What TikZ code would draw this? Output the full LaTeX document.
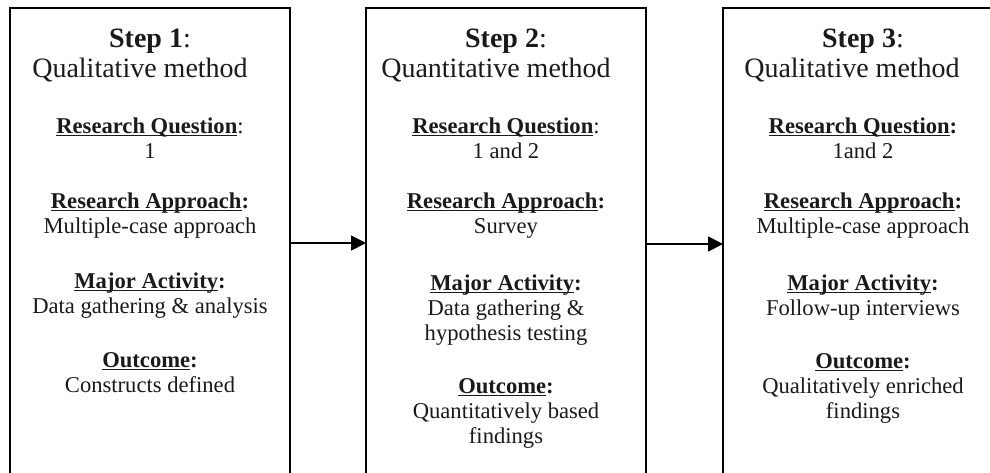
\documentclass[tikz,border=0pt]{standalone}
\usepackage{fontspec}
\setmainfont{Liberation Serif}
\usetikzlibrary{arrows.meta}
\definecolor{ink}{HTML}{1A1A1A}
\newcommand\myul[1]{\setbox0=\hbox{#1}\rlap{\rule[-3pt]{\wd0}{1.3pt}}\box0}
\begin{document}
\begin{tikzpicture}[x=1pt,y=1pt,
  stepbox/.style={draw=black, line width=1.8pt, minimum width=280pt, minimum height=520pt, anchor=north west, inner sep=0pt, outer sep=0pt},
  titlefont/.style={anchor=base, inner sep=0pt, text=ink, font=\fontsize{28}{30}\selectfont},
  body/.style={anchor=base, align=center, inner sep=0pt, text=ink, font=\fontsize{22.6}{25}\selectfont},
  conn/.style={line width=1.8pt, -{Triangle[length=15pt,width=15pt]}}]
\useasboundingbox (0,0) rectangle (990,-472);
\fill[white] (0,0) rectangle (990,-472);
% boxes
\node[stepbox] (b1) at (10,-8) {};
\node[stepbox] (b2) at (366,-8) {};
\node[stepbox] (b3) at (723,-8) {};
% box 1 (anchors at baseline of last line)
\node[titlefont] (s1) at (150,-47) {\textbf{Step 1}:};
\node[titlefont] (h1) at (140,-77) {Qualitative method};
\node[body] (q1) at (150,-158) {\myul{\textbf{Research Question}}:\\1};
\node[body] (a1) at (150,-233) {\myul{\textbf{Research Approach}}\textbf{:}\\Multiple-case approach};
\node[body] (m1) at (150,-313) {\myul{\textbf{Major Activity}}\textbf{:}\\Data gathering \& analysis};
\node[body] (o1) at (150,-392) {\myul{\textbf{Outcome}}\textbf{:}\\Constructs defined};
% box 2
\node[titlefont] (s2) at (506,-47) {\textbf{Step 2}:};
\node[titlefont] (h2) at (496,-77) {Quantitative method};
\node[body] (q2) at (506,-158) {\myul{\textbf{Research Question}}:\\1 and 2};
\node[body] (a2) at (506,-233) {\myul{\textbf{Research Approach}}\textbf{:}\\Survey};
\node[body] (m2) at (506,-340) {\myul{\textbf{Major Activity}}\textbf{:}\\Data gathering \&\\hypothesis testing};
\node[body] (o2) at (506,-443) {\myul{\textbf{Outcome}}\textbf{:}\\Quantitatively based\\findings};
% box 3
\node[titlefont] (s3) at (863,-47) {\textbf{Step 3}:};
\node[titlefont] (h3) at (852,-77) {Qualitative method};
\node[body] (q3) at (863,-158) {\myul{\textbf{Research Question}}\textbf{:}\\1and 2};
\node[body] (a3) at (863,-233) {\myul{\textbf{Research Approach}}\textbf{:}\\Multiple-case approach};
\node[body] (m3) at (863,-315) {\myul{\textbf{Major Activity}}\textbf{:}\\Follow-up interviews};
\node[body] (o3) at (863,-418) {\myul{\textbf{Outcome}}\textbf{:}\\Qualitatively enriched\\findings};
% connectors
\coordinate (r1) at (0,-243);
\coordinate (r2) at (0,-244);
\draw[conn] (b1.east |- r1) -- (b2.west |- r1);
\draw[conn] (b2.east |- r2) -- (b3.west |- r2);
\end{tikzpicture}
\end{document}
